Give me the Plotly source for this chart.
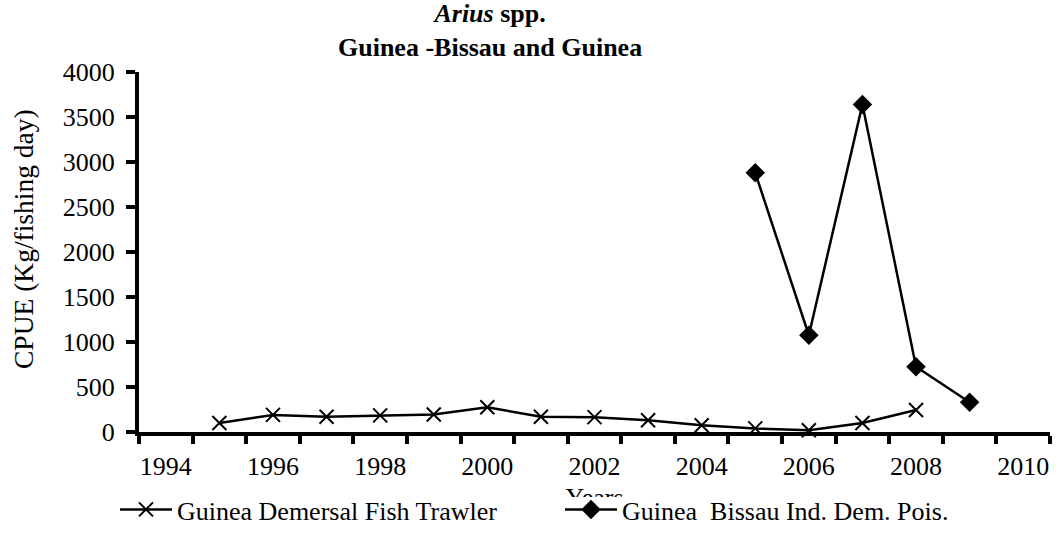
import plotly.graph_objects as go

# ---- data ----
years_trawler = [1995, 1996, 1997, 1998, 1999, 2000, 2001, 2002, 2003, 2004, 2005, 2006, 2007, 2008]
cpue_trawler = [100, 190, 170, 185, 195, 275, 170, 165, 130, 75, 40, 20, 100, 245]

years_bissau = [2005, 2006, 2007, 2008, 2009]
cpue_bissau = [2880, 1075, 3640, 725, 330]

label_years = [1994, 1996, 1998, 2000, 2002, 2004, 2006, 2008, 2010]
y_ticks = [0, 500, 1000, 1500, 2000, 2500, 3000, 3500, 4000]

name_trawler = "Guinea Demersal Fish Trawler"
name_bissau = "Guinea  Bissau Ind. Dem. Pois."
title_text = "<b><i>Arius</i> spp.</b><br><b>Guinea -Bissau and Guinea</b>"
y_title = "CPUE (Kg/fishing day)"
x_title = "Years"

FONT = "Liberation Serif, Times New Roman, serif"
W, H = 1056, 545
PL, PR, PT, PB = 139, 1050, 72, 432  # plot area in pixels


def px_x(p):
    return p / W


def px_y(p):
    return (H - p) / H


fig = go.Figure()

fig.add_trace(go.Scatter(
    x=years_trawler, y=cpue_trawler, name=name_trawler,
    mode="lines+markers",
    line=dict(color="black", width=2.5),
    marker=dict(symbol="x-thin-open", size=14, line=dict(color="black", width=2)),
    cliponaxis=False,
))
fig.add_trace(go.Scatter(
    x=years_bissau, y=cpue_bissau, name=name_bissau,
    mode="lines+markers",
    line=dict(color="black", width=2.5),
    marker=dict(symbol="diamond", size=15, color="black"),
    cliponaxis=False,
))

# partially hidden "Years" axis title (clipped like in the reference)
fig.add_trace(go.Scatter(
    x=[0.5], y=[-0.2], mode="text", text=[x_title],
    textfont=dict(family=FONT, size=26, color="black"),
    xaxis="x3", yaxis="y3", showlegend=False, hoverinfo="skip",
    cliponaxis=True,
))

half_ticks = [y + 0.5 for y in range(1993, 2011)]

fig.update_layout(
    width=W, height=H,
    margin=dict(l=0, r=0, t=0, b=0, autoexpand=False),
    paper_bgcolor="white", plot_bgcolor="white",
    font=dict(family=FONT, size=26, color="black"),
    showlegend=True,
    xaxis=dict(
        domain=[px_x(PL), px_x(PR)],
        range=[1993.5, 2010.5],
        tickvals=label_years, ticktext=[str(v) for v in label_years],
        ticks="", ticklabelstandoff=8,
        tickfont=dict(family=FONT, size=26, color="black"),
        minor=dict(tickvals=half_ticks, ticks="outside", ticklen=8, tickwidth=4, tickcolor="black"),
        showline=True, linecolor="black", linewidth=4,
        showgrid=False, zeroline=False, automargin=False, anchor="y",
    ),
    yaxis=dict(
        domain=[px_y(PB), px_y(PT)],
        range=[0, 4000],
        tickvals=y_ticks,
        ticks="outside", ticklen=9, tickwidth=4, tickcolor="black",
        ticklabelstandoff=6,
        tickfont=dict(family=FONT, size=26, color="black"),
        showline=True, linecolor="black", linewidth=4,
        showgrid=False, zeroline=False, automargin=False, anchor="x",
    ),
    xaxis3=dict(domain=[px_x(PL), px_x(PR)], range=[0, 1], visible=False, anchor="y3", fixedrange=True),
    yaxis3=dict(domain=[px_y(497), px_y(485)], range=[0, 1], visible=False, anchor="x3", fixedrange=True),
    legend=dict(
        orientation="h", x=px_x(115), y=px_y(486), xanchor="left", yanchor="top",
        entrywidth=378, entrywidthmode="pixels", itemwidth=52,
        font=dict(family=FONT, size=26, color="black"),
        bgcolor="rgba(0,0,0,0)", borderwidth=0,
    ),
    annotations=[
        dict(text=title_text, x=px_x(490), y=1.0, xref="paper", yref="paper",
             xanchor="center", yanchor="top", showarrow=False, yshift=3,
             font=dict(family=FONT, size=26, color="black")),
        dict(text=y_title, x=px_x(24), y=px_y(239), xref="paper", yref="paper",
             xanchor="center", yanchor="middle", showarrow=False, textangle=-90,
             font=dict(family=FONT, size=27.5, color="black")),
    ],
)

fig.write_html("out.html", post_script="document.body.style.margin='0';",
               config={"displayModeBar": False})
